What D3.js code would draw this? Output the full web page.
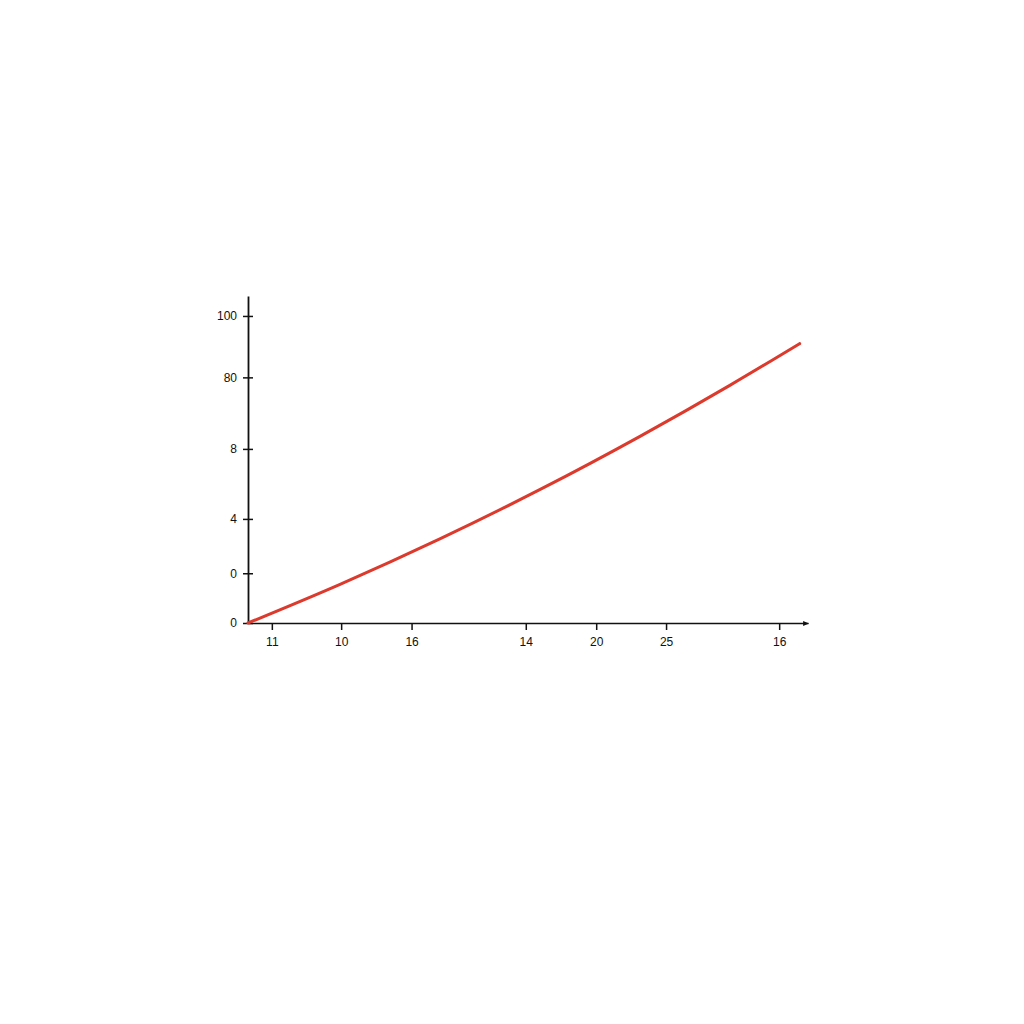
<!DOCTYPE html>
<html>
<head>
<meta charset="utf-8">
<script src="https://cdn.jsdelivr.net/npm/d3@7"></script>
<style>
  html, body { margin: 0; padding: 0; background: #fff; }
  svg { display: block; }
  .axis text { font-family: "Liberation Sans", Arial, sans-serif; font-size: 12px; fill: #111; }
</style>
</head>
<body>
<svg id="chart" width="1024" height="1024"></svg>
<script>
// tick positions (data units) and their printed labels
const xTickValues = [4.3, 16.8, 29.5, 50.1, 62.8, 75.4, 95.8];
const xTickLabels = ["11", "10", "16", "14", "20", "25", "16"];
const yTickValues = [0, 16.2, 33.9, 56.7, 80, 100];
const yTickLabels = ["0", "0", "4", "8", "80", "100"];

// the red curve
const lineX = [0, 16.6, 34.6, 52.7, 70.7, 86.9, 99.5];
const lineY = [0, 12.6, 27.4, 43.5, 60.8, 77.4, 91.0];

const svg = d3.select("#chart");

const x = d3.scaleLinear().domain([0, 101]).range([248, 808]);
const y = d3.scaleLinear().domain([0, 106.5]).range([623, 296]);

svg.append("defs").append("marker")
    .attr("id", "arrow")
    .attr("viewBox", "0 0 10 10")
    .attr("refX", 9).attr("refY", 5)
    .attr("markerWidth", 6).attr("markerHeight", 6)
    .attr("markerUnits", "userSpaceOnUse")
    .attr("orient", "auto")
    .append("path")
    .attr("d", "M0,1 L10,5 L0,9 Z")
    .attr("fill", "#111");

// x axis
const gx = svg.append("g")
    .attr("class", "axis")
    .attr("transform", `translate(0,${y(0)})`)
    .call(d3.axisBottom(x)
        .tickValues(xTickValues)
        .tickFormat((d, i) => xTickLabels[i])
        .tickSize(7)
        .tickSizeOuter(0)
        .tickPadding(7));
gx.select(".domain").attr("stroke", "#111").attr("stroke-width", 1.6)
    .attr("marker-end", "url(#arrow)");
gx.selectAll(".tick line").attr("stroke", "#111").attr("stroke-width", 1.5);

// y axis
const gy = svg.append("g")
    .attr("class", "axis")
    .attr("transform", `translate(${x(0)},0)`)
    .call(d3.axisLeft(y)
        .tickValues(yTickValues)
        .tickFormat((d, i) => yTickLabels[i])
        .tickSize(5)
        .tickSizeOuter(0)
        .tickPadding(6));
gy.select(".domain").attr("stroke", "#111").attr("stroke-width", 1.8);
gy.selectAll(".tick line").attr("x1", 5).attr("stroke", "#111").attr("stroke-width", 1.5);

// line
const pts = lineX.map((v, i) => [v, lineY[i]]);
svg.append("path")
    .datum(pts)
    .attr("fill", "none")
    .attr("stroke", "#dc3a2c")
    .attr("stroke-width", 3)
    .attr("stroke-linecap", "round")
    .attr("d", d3.line().x(d => x(d[0])).y(d => y(d[1])).curve(d3.curveMonotoneX));
</script>
</body>
</html>
